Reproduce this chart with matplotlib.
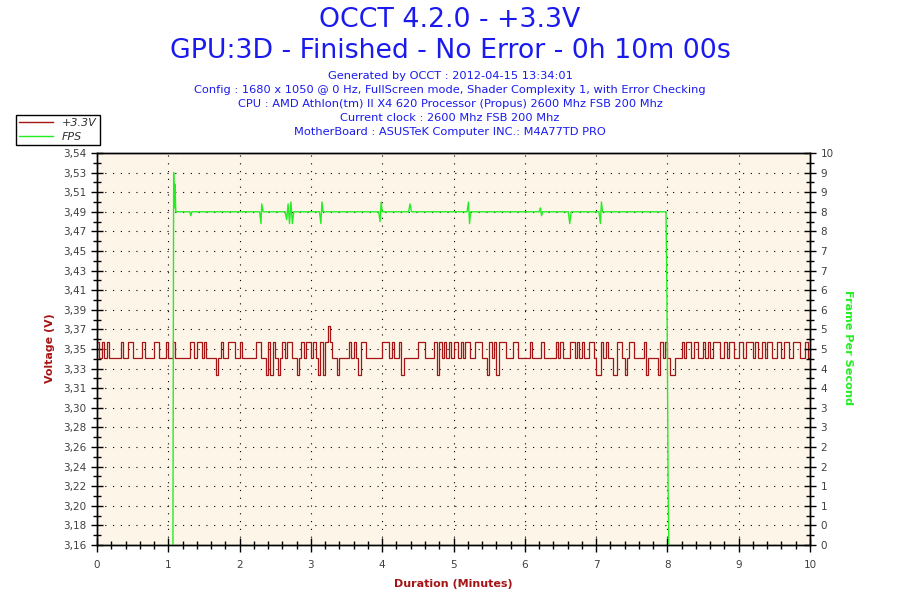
import numpy as np
import matplotlib
matplotlib.use("Agg")
from matplotlib import pyplot as plt

# voltage readings, one code per 2 seconds (L=3.344, H=3.360, D=3.328, S=3.376)
volt_part1 = "HLHLHLLLLLHLLHHLLLLHLLLLHHLLLHLLHLLLLLLHHLHHLHLLLLDLHLLHHHLLHLLLLLLHHLLDHDHL"
volt_part2 = "DLHLHHLLDLHLHHLHLDHDHSHLLDLLLLHLHLDHHLLLLLLLHHHLHLLHDLLLLLLHHHLLLLHDHLHLHLH"
volt_part3 = "HLHLHHLLHHHLLDHLHDHHHLLLHHLLLLLHLLLLHLLLLLHLHLLLHHLHLHLLHHLDDHLHLLDDHHLDLHHL"
volt_part4 = "LLLHDLLLLDHLHLDDLLLHLHHLHHLLHLHLHHHLLHLHHLLHHLHHHLHLLHLHHLLHHLHHLLHHHLLHL"
volt_levels = {"L": 3.344, "H": 3.360, "D": 3.328, "S": 3.376}
volt_step_min = 2 / 60

# FPS curve (minutes, fps)
fps_t = [1.065, 1.075, 1.085, 1.095, 1.105, 1.30, 1.317, 1.33,
         2.28, 2.30, 2.31, 2.33, 2.64, 2.66, 2.68, 2.70, 2.72, 2.74, 2.76,
         3.12, 3.14, 3.155, 3.17, 3.95, 3.97, 3.985, 4.0, 4.37, 4.39, 4.41,
         5.19, 5.21, 5.225, 5.24, 6.20, 6.22, 6.235, 6.25, 6.61, 6.63, 6.65,
         7.04, 7.06, 7.075, 7.09, 7.98, 7.99, 8.0, 8.01, 8.02]
fps_v = [0, 9.5, 8.6, 9.2, 8.5, 8.5, 8.4, 8.5,
         8.5, 8.2, 8.7, 8.5, 8.5, 8.3, 8.7, 8.2, 8.75, 8.2, 8.5,
         8.5, 8.2, 8.75, 8.5, 8.5, 8.25, 8.75, 8.5, 8.5, 8.7, 8.5,
         8.5, 8.75, 8.2, 8.5, 8.5, 8.6, 8.4, 8.5, 8.5, 8.2, 8.5,
         8.5, 8.2, 8.75, 8.5, 8.5, 7.0, 4.8, 1.4, 0]

volt_tick_labels = ["3,16", "3,18", "3,20", "3,22", "3,24", "3,26", "3,28", "3,30",
                    "3,31", "3,33", "3,35", "3,37", "3,39", "3,41", "3,43", "3,45",
                    "3,47", "3,49", "3,51", "3,53", "3,54"]
fps_tick_labels = ["0", "0", "1", "1", "2", "2", "3", "3", "4", "4", "5", "5",
                   "6", "6", "7", "7", "8", "8", "9", "9", "10"]
x_ticks = list(range(0, 11))

title1 = "OCCT 4.2.0 - +3.3V"
title2 = "GPU:3D - Finished - No Error - 0h 10m 00s"
infos = ["Generated by OCCT : 2012-04-15 13:34:01",
         "Config : 1680 x 1050 @ 0 Hz, FullScreen mode, Shader Complexity 1, with Error Checking",
         "CPU : AMD Athlon(tm) II X4 620 Processor (Propus) 2600 Mhz FSB 200 Mhz",
         "Current clock : 2600 Mhz FSB 200 Mhz",
         "MotherBoard : ASUSTeK Computer INC.: M4A77TD PRO"]

red = "#a51515"
green = "#22ee22"
blue = "#1a1aee"
txt_grey = "#404040"

codes = volt_part1 + volt_part2 + volt_part3 + volt_part4
volt = np.array([volt_levels[c] for c in codes] + [volt_levels[codes[-1]]])
volt_t = np.arange(len(volt)) * volt_step_min

vmin, vmax = 3.162, 3.5442

fig = plt.figure(figsize=(9, 6), dpi=100)
ax = fig.add_axes([97 / 900, 1 - 545 / 600, 713 / 900, 392 / 600])
ax.set_facecolor("#fdf6e8")
ax2 = ax.twinx()

ax.plot(volt_t, volt, color=red, lw=0.9, drawstyle="steps-post", zorder=3)
ax2.plot(fps_t, fps_v, color=green, lw=1.0, zorder=3)

ax.set_xlim(0, 10)
ax.set_ylim(vmin, vmax)
ax2.set_ylim(0, 10)

ax.set_xticks(x_ticks)
ax.set_xticks(np.arange(0, 10.01, 0.2), minor=True)
ax.set_yticks(np.linspace(vmin, vmax, 21))
ax.set_yticklabels(volt_tick_labels)
ax.set_yticks(np.linspace(vmin, vmax, 41), minor=True)
ax2.set_yticks(np.linspace(0, 10, 21))
ax2.set_yticklabels(fps_tick_labels)
ax2.set_yticks(np.linspace(0, 10, 41), minor=True)

for a in (ax, ax2):
    a.tick_params(which="major", direction="inout", length=8, width=1, colors="black",
                  labelcolor=txt_grey, labelsize=7.5)
    a.tick_params(which="minor", direction="inout", length=6, width=1, colors="black")
    for s in a.spines.values():
        s.set_linewidth(1)
        s.set_zorder(5)
ax.tick_params(axis="x", which="major", length=10, pad=6)

ax.grid(True, which="major", color="black", lw=0.8, linestyle=(0, (1, 6)))

ax.set_xlabel("Duration (Minutes)", color=red, fontweight="bold", fontsize=8, labelpad=6)
fig.text(50 / 900, 1 - 348 / 600, "Voltage (V)", color=red, fontweight="bold", fontsize=7.9,
         rotation=90, ha="center", va="center")
fig.text(848 / 900, 1 - 348 / 600, "Frame Per Second", color=green, fontweight="bold",
         fontsize=8.1, rotation=-90, ha="center", va="center")

fig.text(0.5, 1 - 20 / 600, title1, color=blue, fontsize=19.3, ha="center", va="center")
fig.text(0.5, 1 - 51 / 600, title2, color=blue, fontsize=19.3, ha="center", va="center")
for k, line in enumerate(infos):
    fig.text(0.5, 1 - (76 + 14 * k) / 600, line, color=blue, fontsize=8.2,
             ha="center", va="center")

h1, = ax.plot([], [], color=red, lw=1)
h2, = ax.plot([], [], color=green, lw=1)
leg = fig.legend([h1, h2], ["+3.3V", "FPS"], loc="upper left",
                 bbox_to_anchor=(16 / 900, 1 - 115 / 600), fancybox=False,
                 edgecolor="black", framealpha=1, prop={"style": "italic", "size": 8},
                 handlelength=3.0, borderpad=0.3, labelspacing=0.3, borderaxespad=0)
leg.get_frame().set_linewidth(1)
for t in leg.get_texts():
    t.set_color("#303030")

fig.savefig("out.png", dpi=100)
